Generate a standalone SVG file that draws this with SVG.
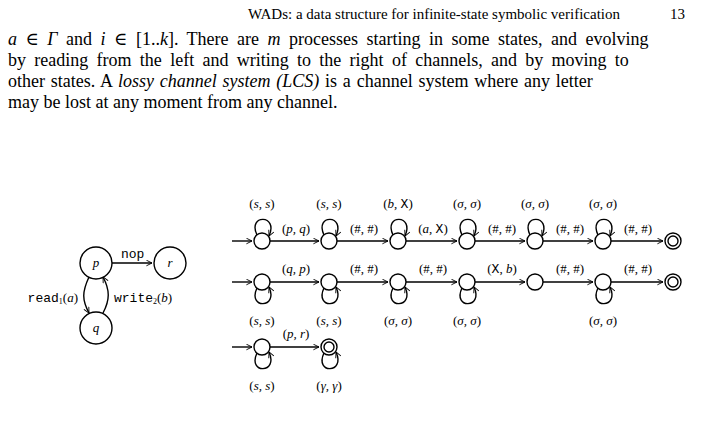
<svg xmlns="http://www.w3.org/2000/svg" width="704" height="427" viewBox="0 0 704 427">
<style>
text{font-family:"Liberation Serif","DejaVu Serif",serif;fill:#000}
.h{font-size:15px}
.t{font-size:18px}
.m{font-size:13px}
.i{font-style:italic}
.tt{font-family:"Liberation Mono","DejaVu Sans Mono",monospace}
.s{fill:#fff;stroke:#000;stroke-width:1.4}
.e{fill:none;stroke:#000;stroke-width:1.4}
</style>
<defs>
<marker id="a" viewBox="0 0 10 10" refX="9" refY="5" markerWidth="7" markerHeight="7" orient="auto" markerUnits="userSpaceOnUse"><path d="M1,1 L9,5 L1,9" fill="none" stroke="#000" stroke-width="1.3"/></marker>
</defs>
<text class="h" x="248" y="19">WADs: a data structure for infinite-state symbolic verification</text>
<text class="h" x="670" y="19">13</text>
<text class="t" x="8" y="45" word-spacing="4"><tspan class="i">a</tspan> ∈ <tspan class="i">Γ</tspan> and <tspan class="i">i</tspan> ∈ [1..<tspan class="i">k</tspan>]. There are <tspan class="i">m</tspan> processes starting in some states, and evolving</text>
<text class="t" x="8" y="66" word-spacing="3.8">by reading from the left and writing to the right of channels, and by moving to</text>
<text class="t" x="8" y="87" word-spacing="1.3">other states. A <tspan class="i">lossy channel system (LCS)</tspan> is a channel system where any letter</text>
<text class="t" x="8" y="108">may be lost at any moment from any channel.</text>

<g id="connectors">
<path class="e" d="M112,263 H152" marker-end="url(#a)"/>
<path class="e" d="M89,277 C82,292 82,300 89,313" marker-end="url(#a)"/>
<path class="e" d="M103,313 C110,300 110,290 103,277" marker-end="url(#a)"/>
<path class="e" d="M232,241 H252" marker-end="url(#a)"/>
<path class="e" d="M270,241 H319" marker-end="url(#a)"/>
<path class="e" d="M337,241 H388" marker-end="url(#a)"/>
<path class="e" d="M406,241 H457" marker-end="url(#a)"/>
<path class="e" d="M475,241 H525" marker-end="url(#a)"/>
<path class="e" d="M543,241 H593" marker-end="url(#a)"/>
<path class="e" d="M611,241 H663" marker-end="url(#a)"/>
<path class="e" d="M232,282 H252" marker-end="url(#a)"/>
<path class="e" d="M270,282 H319" marker-end="url(#a)"/>
<path class="e" d="M337,282 H388" marker-end="url(#a)"/>
<path class="e" d="M406,282 H457" marker-end="url(#a)"/>
<path class="e" d="M475,282 H525" marker-end="url(#a)"/>
<path class="e" d="M543,282 H593" marker-end="url(#a)"/>
<path class="e" d="M611,282 H663" marker-end="url(#a)"/>
<path class="e" d="M232,347 H252" marker-end="url(#a)"/>
<path class="e" d="M270,347 H319" marker-end="url(#a)"/>
</g>
<g id="nodes-left">
<g id="p"><circle class="s" cx="96" cy="263" r="16"/><text class="m i" x="96" y="267" text-anchor="middle">p</text></g>
<g id="r"><circle class="s" cx="170" cy="263" r="16"/><text class="m i" x="170" y="267" text-anchor="middle">r</text></g>
<g id="q"><circle class="s" cx="96" cy="328" r="16"/><text class="m i" x="96" y="332" text-anchor="middle">q</text></g>
<text class="m tt" x="121" y="258">nop</text>
<text class="m" x="78" y="302" text-anchor="end"><tspan class="tt">read</tspan><tspan font-size="8" dy="2">1</tspan><tspan dy="-2">(</tspan><tspan class="i">a</tspan>)</text>
<text class="m" x="114" y="302"><tspan class="tt">write</tspan><tspan font-size="8" dy="2">2</tspan><tspan dy="-2">(</tspan><tspan class="i">b</tspan>)</text>
</g>
<g id="automata">
<g class="e">
<path d="M257,235 C247,214 279,214 269,236" marker-end="url(#a)"/>
<path d="M324,235 C314,214 346,214 336,236" marker-end="url(#a)"/>
<path d="M393,235 C383,214 415,214 405,236" marker-end="url(#a)"/>
<path d="M462,235 C452,214 484,214 474,236" marker-end="url(#a)"/>
<path d="M530,235 C520,214 552,214 542,236" marker-end="url(#a)"/>
<path d="M598,235 C588,214 620,214 610,236" marker-end="url(#a)"/>
<path d="M257,288 C247,309 279,309 269,287" marker-end="url(#a)"/>
<path d="M324,288 C314,309 346,309 336,287" marker-end="url(#a)"/>
<path d="M393,288 C383,309 415,309 405,287" marker-end="url(#a)"/>
<path d="M462,288 C452,309 484,309 474,287" marker-end="url(#a)"/>
<path d="M598,288 C588,309 620,309 610,287" marker-end="url(#a)"/>
<path d="M257,353 C247,374 279,374 269,352" marker-end="url(#a)"/>
<path d="M324,353 C314,374 346,374 336,352" marker-end="url(#a)"/>
</g>
<g id="r1">
<circle class="s" cx="262" cy="241" r="8"/><circle class="s" cx="329" cy="241" r="8"/><circle class="s" cx="398" cy="241" r="8"/><circle class="s" cx="467" cy="241" r="8"/><circle class="s" cx="535" cy="241" r="8"/><circle class="s" cx="603" cy="241" r="8"/><circle class="s" cx="673" cy="241" r="8"/><circle class="s" cx="673" cy="241" r="5"/>
</g>
<g id="r2">
<circle class="s" cx="262" cy="282" r="8"/><circle class="s" cx="329" cy="282" r="8"/><circle class="s" cx="398" cy="282" r="8"/><circle class="s" cx="467" cy="282" r="8"/><circle class="s" cx="535" cy="282" r="8"/><circle class="s" cx="603" cy="282" r="8"/><circle class="s" cx="673" cy="282" r="8"/><circle class="s" cx="673" cy="282" r="5"/>
</g>
<g id="r3">
<circle class="s" cx="262" cy="347" r="8"/><circle class="s" cx="329" cy="347" r="8"/><circle class="s" cx="329" cy="347" r="5"/>
</g>
<g class="m" text-anchor="middle">
<text x="262" y="208">(<tspan class="i">s, s</tspan>)</text>
<text x="329" y="208">(<tspan class="i">s, s</tspan>)</text>
<text x="398" y="208">(<tspan class="i">b</tspan>, <tspan class="tt">X</tspan>)</text>
<text x="467" y="208">(<tspan class="i">σ, σ</tspan>)</text>
<text x="535" y="208">(<tspan class="i">σ, σ</tspan>)</text>
<text x="603" y="208">(<tspan class="i">σ, σ</tspan>)</text>
<text x="296" y="233">(<tspan class="i">p, q</tspan>)</text>
<text x="364" y="233">(#, #)</text>
<text x="433" y="233">(<tspan class="i">a</tspan>, <tspan class="tt">X</tspan>)</text>
<text x="502" y="233">(#, #)</text>
<text x="570" y="233">(#, #)</text>
<text x="638" y="233">(#, #)</text>
<text x="296" y="273">(<tspan class="i">q, p</tspan>)</text>
<text x="364" y="273">(#, #)</text>
<text x="433" y="273">(#, #)</text>
<text x="502" y="273">(<tspan class="tt">X</tspan>, <tspan class="i">b</tspan>)</text>
<text x="570" y="273">(#, #)</text>
<text x="638" y="273">(#, #)</text>
<text x="262" y="325">(<tspan class="i">s, s</tspan>)</text>
<text x="329" y="325">(<tspan class="i">s, s</tspan>)</text>
<text x="398" y="325">(<tspan class="i">σ, σ</tspan>)</text>
<text x="467" y="325">(<tspan class="i">σ, σ</tspan>)</text>
<text x="603" y="325">(<tspan class="i">σ, σ</tspan>)</text>
<text x="296" y="338">(<tspan class="i">p, r</tspan>)</text>
<text x="262" y="390">(<tspan class="i">s, s</tspan>)</text>
<text x="329" y="390">(<tspan class="i">γ, γ</tspan>)</text>
</g>
</g>
</svg>
